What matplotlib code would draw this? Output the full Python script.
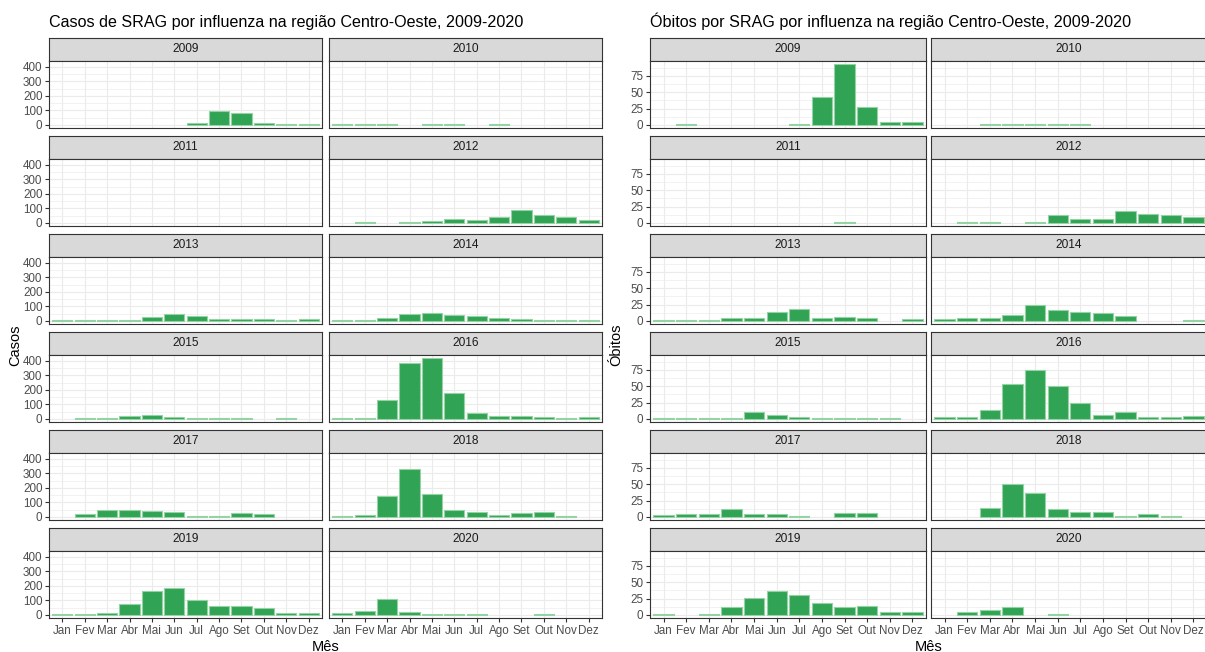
import matplotlib
matplotlib.use("Agg")
import matplotlib.pyplot as plt
from matplotlib.ticker import FixedLocator

plt.rcParams['font.family'] = ['Liberation Sans', 'DejaVu Sans']

meses = ["Jan", "Fev", "Mar", "Abr", "Mai", "Jun", "Jul", "Ago", "Set", "Out", "Nov", "Dez"]
anos = list(range(2009, 2021))

# Casos de SRAG por influenza, por mês (Jan..Dez)
casos_2009 = [0, 0, 0, 0, 0, 0, 13, 97, 83, 12, 5, 5]
casos_2010 = [4, 4, 4, 0, 4, 4, 0, 4, 0, 0, 0, 0]
casos_2011 = [0, 0, 0, 0, 0, 0, 0, 0, 0, 0, 0, 0]
casos_2012 = [0, 4, 0, 5, 12, 27, 20, 40, 92, 53, 40, 20]
casos_2013 = [4, 4, 4, 4, 25, 48, 36, 13, 13, 13, 4, 13]
casos_2014 = [4, 4, 18, 48, 55, 43, 36, 18, 12, 4, 4, 4]
casos_2015 = [0, 4, 4, 20, 27, 13, 5, 5, 5, 0, 4, 0]
casos_2016 = [4, 4, 133, 384, 420, 177, 40, 20, 20, 13, 5, 13]
casos_2017 = [0, 20, 47, 47, 40, 33, 5, 5, 28, 22, 0, 0]
casos_2018 = [5, 13, 145, 333, 158, 47, 33, 13, 27, 33, 5, 0]
casos_2019 = [5, 5, 13, 78, 165, 183, 102, 65, 60, 47, 15, 15]
casos_2020 = [15, 28, 108, 22, 5, 5, 5, 0, 0, 5, 0, 0]

# Óbitos por SRAG por influenza, por mês (Jan..Dez)
obitos_2009 = [0, 1, 0, 0, 0, 0, 1, 42, 93, 27, 5, 4]
obitos_2010 = [0, 0, 1, 1, 2, 1, 1, 0, 0, 0, 0, 0]
obitos_2011 = [0, 0, 0, 0, 0, 0, 0, 0, 1, 0, 0, 0]
obitos_2012 = [0, 1, 1, 0, 1, 12, 6, 6, 19, 13, 12, 9]
obitos_2013 = [1, 1, 1, 4, 4, 14, 18, 4, 6, 4, 0, 3]
obitos_2014 = [3, 5, 5, 9, 24, 16, 14, 12, 8, 0, 0, 1]
obitos_2015 = [1, 1, 1, 1, 10, 6, 3, 2, 2, 2, 2, 0]
obitos_2016 = [3, 3, 14, 54, 74, 50, 24, 6, 10, 3, 3, 4]
obitos_2017 = [3, 5, 5, 12, 5, 5, 1, 0, 6, 6, 0, 0]
obitos_2018 = [0, 0, 14, 50, 37, 12, 8, 8, 2, 5, 2, 0]
obitos_2019 = [1, 0, 1, 12, 26, 36, 30, 19, 12, 14, 5, 4]
obitos_2020 = [0, 4, 8, 12, 0, 1, 0, 0, 0, 0, 0, 0]

casos = [casos_2009, casos_2010, casos_2011, casos_2012, casos_2013, casos_2014,
         casos_2015, casos_2016, casos_2017, casos_2018, casos_2019, casos_2020]
obitos = [obitos_2009, obitos_2010, obitos_2011, obitos_2012, obitos_2013, obitos_2014,
          obitos_2015, obitos_2016, obitos_2017, obitos_2018, obitos_2019, obitos_2020]

casos_ticks = [0, 100, 200, 300, 400]
casos_minor = [50, 150, 250, 350]
obitos_ticks = [0, 25, 50, 75]
obitos_minor = [12.5, 37.5, 62.5, 87.5]

W, H = 1205, 652
fig = plt.figure(figsize=(W / 100, H / 100), dpi=100)
fig.patch.set_facecolor("white")

VERDE = "#31A354"
CONTORNO = "#93D3A4"
BORDA = "#333333"
GRADE = "#EBEBEB"
TXT_EIXO = "#4D4D4D"


def px_axes(x, y, w, h):
    return fig.add_axes([x / W, 1 - (y + h) / H, w / W, h / H])


def painel(series, col_x, pw, titulo, ylabel, ticks, minor):
    vmax = max(max(s) for s in series)
    ylo, yhi = -0.05 * vmax, 1.05 * vmax
    strip_h, panel_h, pitch, top0 = 23, 67, 98, 38
    for i, (ano, vals) in enumerate(zip(anos, series)):
        r, c = divmod(i, 2)
        x0 = col_x[c]
        ys = top0 + r * pitch
        # faixa com o ano
        sa = px_axes(x0, ys, pw, strip_h)
        sa.set_facecolor("#D9D9D9")
        sa.set_xticks([]); sa.set_yticks([])
        for sp in sa.spines.values():
            sp.set_color(BORDA); sp.set_linewidth(0.8)
        sa.text(0.5, 0.5, str(ano), ha="center", va="center", fontsize=8.6,
                color="#1A1A1A", transform=sa.transAxes)
        # painel de barras
        ax = px_axes(x0, ys + strip_h, pw, panel_h)
        ax.set_facecolor("white")
        ax.set_xlim(-0.6, 11.6)
        ax.set_ylim(ylo, yhi)
        ax.yaxis.set_major_locator(FixedLocator(ticks))
        ax.yaxis.set_minor_locator(FixedLocator(minor))
        ax.set_xticks(range(12))
        ax.grid(which="major", color=GRADE, linewidth=0.8)
        ax.grid(which="minor", axis="y", color=GRADE, linewidth=0.45)
        ax.set_axisbelow(True)
        # meses sem registro não recebem contorno
        contornos = [CONTORNO if v > 0 else "none" for v in vals]
        ax.bar(range(12), vals, width=0.9, color=VERDE, edgecolor=contornos,
               linewidth=0.8, zorder=2)
        for sp in ax.spines.values():
            sp.set_color(BORDA); sp.set_linewidth(0.8); sp.set_zorder(3)
        ax.tick_params(axis="both", which="major", length=2.75, width=0.8,
                       color=BORDA, labelsize=8.4, labelcolor=TXT_EIXO, pad=2)
        ax.tick_params(axis="y", which="minor", length=0)
        if c == 0:
            ax.set_yticklabels([str(t) for t in ticks])
        else:
            ax.tick_params(axis="y", which="major", length=0, labelleft=False)
        if r == 5:
            ax.set_xticklabels(meses)
        else:
            ax.tick_params(axis="x", length=0, labelbottom=False)
    # título, rótulos dos eixos
    left = col_x[0]
    right = col_x[1] + pw
    fig.text(left / W, 1 - 27 / H, titulo, ha="left", va="baseline",
             fontsize=11.6, color="black")
    fig.text(((left + right) / 2) / W, 1 - 647 / H, "Mês", ha="center",
             va="center", fontsize=10.5, color="black")
    fig.text((left - 34) / W, 1 - 345 / H, ylabel, ha="center", va="center",
             rotation=90, fontsize=10.5, color="black")


painel(casos, [49, 329], 273,
       "Casos de SRAG por influenza na região Centro-Oeste, 2009-2020",
       "Casos", casos_ticks, casos_minor)
painel(obitos, [650, 931], 276,
       "Óbitos por SRAG por influenza na região Centro-Oeste, 2009-2020",
       "Óbitos", obitos_ticks, obitos_minor)

fig.savefig("out.png", dpi=100, facecolor="white")
